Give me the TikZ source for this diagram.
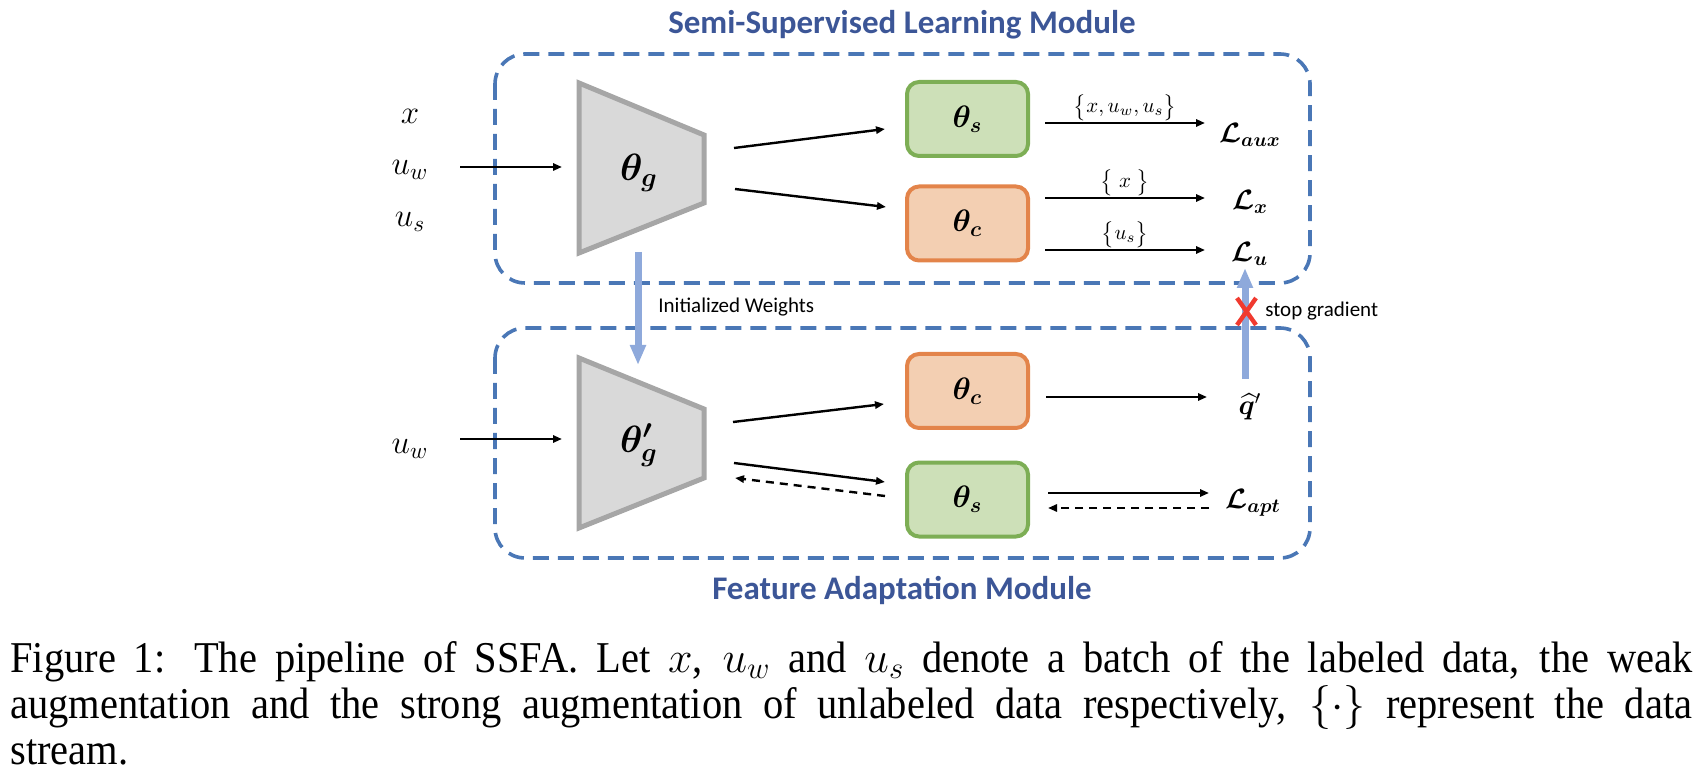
\RequirePackage{fix-cm}
\documentclass[tikz,border=0pt]{standalone}
\usepackage{amsmath,bm}
\usepackage{fontspec}
\setmainfont{Liberation Serif}
\newfontfamily\capfont{Liberation Serif}[FakeStretch=0.92]
\newfontfamily\carlito{Carlito}
\usetikzlibrary{arrows.meta,calc}
\definecolor{modblue}{HTML}{4A77B6}
\definecolor{titleblue}{HTML}{3C5697}
\definecolor{lblue}{HTML}{8EA9DB}
\definecolor{trapfill}{HTML}{D9D9D9}
\definecolor{trapdraw}{HTML}{A6A6A6}
\definecolor{gfill}{HTML}{CDE0B8}
\definecolor{gdraw}{HTML}{7DAE55}
\definecolor{ofill}{HTML}{F3CFB2}
\definecolor{odraw}{HTML}{E3844A}
\definecolor{xred}{HTML}{F03A2F}
\begin{document}
\begin{tikzpicture}[x=0.5pt,y=-0.5pt,
  arr/.style={-{Triangle[length=4.5pt,width=3.6pt]}, line width=1.2pt},
  darr/.style={arr, dash pattern=on 4pt off 3pt},
  barr/.style={-{Triangle[length=10pt,width=7.5pt]}, line width=3.5pt, draw=lblue},
  module/.style={draw=modblue, line width=1.8pt, dash pattern=on 8pt off 4.5pt, rounded corners=15pt},
  trap/.style={fill=trapfill, draw=trapdraw, line width=2.5pt, line join=miter},
  netbox/.style={rounded corners=6pt, line width=2pt, minimum width=60.5pt, minimum height=37pt, inner sep=0pt, font=\fontsize{15.5}{18}\selectfont},
  gbox/.style={netbox, fill=gfill, draw=gdraw},
  obox/.style={netbox, fill=ofill, draw=odraw},
  biglbl/.style={font=\fontsize{19}{21}\selectfont, inner sep=0pt},
  inlbl/.style={font=\fontsize{16.5}{19}\selectfont, inner sep=0pt},
  losslbl/.style={font=\fontsize{14}{16}\selectfont, inner sep=0pt},
  streamlbl/.style={font=\fontsize{10.5}{12}\selectfont, inner sep=0.6pt, above},
  titlelbl/.style={font=\carlito\bfseries\fontsize{16.5}{20}\selectfont, text=titleblue, inner sep=0pt},
  smalllbl/.style={font=\carlito\fontsize{10.5}{13}\selectfont, inner sep=0pt, anchor=west},
  capline/.style={font=\capfont\fontsize{22}{25}\selectfont, inner sep=0pt, anchor=base west}
]
\useasboundingbox (0,0) rectangle (1700,774);

% modules
\draw[module] (495,54) rectangle (1310,283);
\draw[module] (495,328) rectangle (1310,558);
\node[titlelbl] (t1) at (902,25) {Semi-Supervised Learning Module};
\node[titlelbl] (t2) at (902,590) {Feature Adaptation Module};

% trapezoids
\draw[trap] (579,83) -- (704,135) -- (704,203) -- (579,253) -- cycle;
\draw[trap] (579,358) -- (704,409) -- (704,478) -- (579,528) -- cycle;
\node[biglbl] (tg) at (639,173) {$\bm{\theta_g}$};
\node[biglbl] (tgp) at (639,445) {$\bm{\theta'_g}$};

% network boxes
\node[gbox] (ts1) at (967.5,119) {$\bm{\theta_s}$};
\node[obox] (tc1) at (967.5,223.5) {$\bm{\theta_c}$};
\node[obox] (tc2) at (967.5,391) {$\bm{\theta_c}$};
\node[gbox] (ts2) at (967.5,499.5) {$\bm{\theta_s}$};

% inputs
\node[inlbl] (x1) at (410,116) {$x$};
\node[inlbl] (uw1) at (410,170) {$u_w$};
\node[inlbl] (us1) at (410,222) {$u_s$};
\node[inlbl] (uw2) at (410,449) {$u_w$};

% losses
\node[losslbl] (laux) at (1250,135) {$\bm{\mathcal{L}_{aux}}$};
\node[losslbl] (lx) at (1250,202) {$\bm{\mathcal{L}_{x}}$};
\node[losslbl] (lu) at (1250,254) {$\bm{\mathcal{L}_{u}}$};
\node[losslbl] (qh) at (1250,407) {$\widehat{\bm{q}}{}'$};
\node[losslbl] (lapt) at (1253,503) {$\bm{\mathcal{L}_{apt}}$};

% connector ends
\coordinate (a1s) at (460,167); \coordinate (a1e) at (562,167);
\coordinate (a2s) at (460,439); \coordinate (a2e) at (562,439);
\coordinate (g1s) at (734,148); \coordinate (g1e) at (885,129);
\coordinate (g2s) at (735,189); \coordinate (g2e) at (886,207);
\coordinate (g3s) at (733,422); \coordinate (g3e) at (884,404);
\coordinate (g4s) at (734,463); \coordinate (g4e) at (885,482);
\coordinate (g5s) at (885,496); \coordinate (g5e) at (735,478);
\coordinate (o1s) at (1045,123); \coordinate (o1e) at (1205,123);
\coordinate (o2s) at (1045,198); \coordinate (o2e) at (1205,198);
\coordinate (o3s) at (1045,250); \coordinate (o3e) at (1205,250);
\coordinate (o4s) at (1046,397); \coordinate (o4e) at (1207,397);
\coordinate (o5s) at (1048,493); \coordinate (o5e) at (1209,493);
\coordinate (o6s) at (1209,508); \coordinate (o6e) at (1048,508);

\draw[arr] (a1s) -- (a1e);
\draw[arr] (a2s) -- (a2e);
\draw[arr] (g1s) -- (g1e);
\draw[arr] (g2s) -- (g2e);
\draw[arr] (g3s) -- (g3e);
\draw[arr] (g4s) -- (g4e);
\draw[darr] (g5s) -- (g5e);
\draw[arr] (o1s) -- node[streamlbl] {$\bigl\{x, u_w, u_s\bigr\}$} (o1e);
\draw[arr] (o2s) -- node[streamlbl] {$\bigl\{\;x\;\bigr\}$} (o2e);
\draw[arr] (o3s) -- node[streamlbl] {$\bigl\{u_s\bigr\}$} (o3e);
\draw[arr] (o4s) -- (o4e);
\draw[arr] (o5s) -- (o5e);
\draw[darr] (o6s) -- (o6e);

% weight init and stop gradient
\coordinate (w1) at (638,252); \coordinate (w2) at (638,365);
\draw[barr] (w1) -- (w2);
\node[smalllbl] (iw) at (658,307) {Initialized Weights};
\coordinate (s1) at (1245,379); \coordinate (s2) at (1245,268);
\draw[barr] (s1) -- (s2);
\draw[xred, line width=2.2pt] (1237,298) -- (1256,325) (1256,298) -- (1237,325);
\node[smalllbl] (sg) at (1265,311) {stop gradient};

% caption
\node[capline] (cap1) at (10,672) {\makebox[841pt][s]{Figure 1: The pipeline of SSFA. Let $x$, $u_w$ and $u_s$ denote a batch of the labeled data, the weak}};
\node[capline] (cap2) at (10,718) {\makebox[841pt][s]{augmentation and the strong augmentation of unlabeled data respectively, $\{\cdot\}$ represent the data}};
\node[capline] (cap3) at (10,764) {stream.};
\end{tikzpicture}
\end{document}
